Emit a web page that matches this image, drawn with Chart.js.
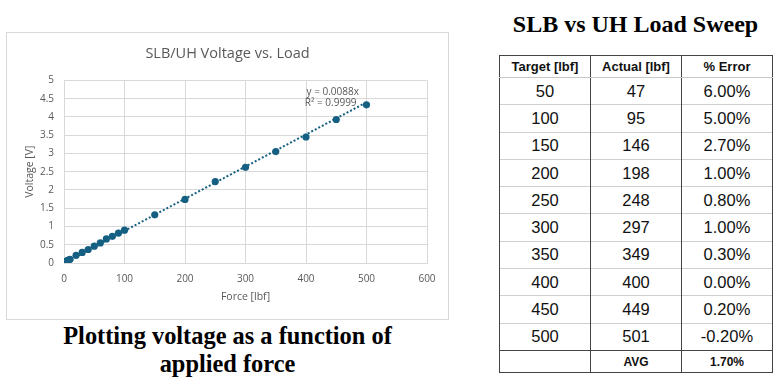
<!DOCTYPE html>
<html lang="en">
<head>
  <meta charset="UTF-8">
  <title>SLB/UH Voltage vs. Load</title>
  <script src="https://cdn.jsdelivr.net/npm/chart.js"></script>
  <style>
    body {
      margin: 0;
      width: 777px;
      height: 386px;
      background: #fff;
      position: relative;
      overflow: hidden;
    }

    /* Chart frame */
    .chart-box {
      position: absolute;
      left: 6px;
      top: 32px;
      width: 443px;
      height: 288px;
      border: 1px solid #d9d9d9;
      box-sizing: border-box;
    }
    .chart-inner {
      position: absolute;
      left: 0;
      top: 1px;
      width: 441px;
      height: 285px;
    }

    .caption {
      position: absolute;
      left: 6px;
      width: 443px;
      top: 322px;
      text-align: center;
      font-family: 'Liberation Serif', 'Times New Roman', serif;
      font-weight: bold;
      font-size: 24.4px;
      line-height: 28px;
      color: #000;
    }

    .table-title {
      position: absolute;
      left: 470px;
      width: 331px;
      top: 9px;
      text-align: center;
      font-family: 'Liberation Serif', 'Times New Roman', serif;
      font-weight: bold;
      font-size: 24px;
      line-height: 30px;
      color: #000;
    }

    /* Load sweep table */
    table {
      position: absolute;
      left: 499px;
      top: 55px;
      width: 274px;
      border-collapse: collapse;
      table-layout: fixed;
      font-family: 'Liberation Sans', Arial, sans-serif;
      color: #111;
    }
    td, th {
      padding: 0;
      text-align: center;
      border-left: 1px solid #444;
      border-right: 1px solid #444;
      border-top: 1px solid #d0d0d0;
    }
    thead th {
      height: 21px;
      font-size: 13px;
      font-weight: bold;
      border-top: 1px solid #444;
      border-bottom: 1px solid #c8c8c8;
    }
    tbody td {
      height: 26.3px;
      font-size: 16.5px;
    }
    tfoot td {
      height: 21.5px;
      font-size: 12px;
      font-weight: bold;
      border-top: 1px solid #444;
      border-bottom: 1px solid #444;
    }
  </style>
</head>
<body>
  <div class="chart-box">
    <div class="chart-inner"><canvas id="loadChart"></canvas></div>
  </div>
  <div class="caption">Plotting voltage as a function of<br>applied force</div>

  <div class="table-title">SLB vs UH Load Sweep</div>
  <table>
    <thead>
      <tr><th>Target [lbf]</th><th>Actual [lbf]</th><th>% Error</th></tr>
    </thead>
    <tbody id="sweepBody"></tbody>
    <tfoot>
      <tr><td></td><td>AVG</td><td id="avgCell"></td></tr>
    </tfoot>
  </table>

  <script>
    // Scatter data
    const forceLbf = [0, 2, 4, 6, 8, 10, 20, 30, 40, 50, 60, 70, 80, 90, 100, 150, 200, 250, 300, 350, 400, 450, 500];
    const voltageV = [0.02, 0.03, 0.05, 0.07, 0.08, 0.10, 0.21, 0.29, 0.37, 0.46, 0.55, 0.66, 0.73, 0.82, 0.90, 1.32, 1.74, 2.23, 2.62, 3.05, 3.45, 3.93, 4.33];

    // Linear trendline (y = 0.0088x), end points
    const trendX = [0, 500];
    const trendY = [0, 4.4];
    const trendLabel = ['y = 0.0088x', 'R² = 0.9999'];

    // Load sweep table
    const targetLbf = [50, 100, 150, 200, 250, 300, 350, 400, 450, 500];
    const actualLbf = [47, 95, 146, 198, 248, 297, 349, 400, 449, 501];
    const errorPct = ['6.00%', '5.00%', '2.70%', '1.00%', '0.80%', '1.00%', '0.30%', '0.00%', '0.20%', '-0.20%'];
    const avgError = '1.70%';

    // Build the table rows
    const body = document.getElementById('sweepBody');
    targetLbf.forEach((t, i) => {
      const tr = document.createElement('tr');
      [t, actualLbf[i], errorPct[i]].forEach(v => {
        const td = document.createElement('td');
        td.textContent = v;
        tr.appendChild(td);
      });
      body.appendChild(tr);
    });
    document.getElementById('avgCell').textContent = avgError;

    const axisGrey = '#595959';
    const gridGrey = '#d9d9d9';
    const fontFam = "'Open Sans', 'Noto Sans', sans-serif";

    // Draws the trendline equation next to the last point
    const trendText = {
      id: 'trendText',
      afterDatasetsDraw(chart) {
        const { ctx, scales } = chart;
        ctx.save();
        ctx.fillStyle = axisGrey;
        ctx.font = '10px ' + fontFam;
        ctx.textBaseline = 'middle';
        ctx.textAlign = 'left';
        ctx.fillText(trendLabel[0], scales.x.getPixelForValue(401), scales.y.getPixelForValue(4.68));
        ctx.fillText(trendLabel[1], scales.x.getPixelForValue(398), scales.y.getPixelForValue(4.37));
        ctx.restore();
      }
    };

    const ctx = document.getElementById('loadChart').getContext('2d');
    new Chart(ctx, {
      type: 'scatter',
      data: {
        datasets: [{
          label: 'Voltage',
          data: forceLbf.map((f, i) => ({ x: f, y: voltageV[i] })),
          backgroundColor: '#156082',
          borderColor: '#156082',
          pointRadius: 3.6,
          pointBorderWidth: 0,
          order: 1
        }, {
          label: 'Linear (Voltage)',
          data: trendX.map((f, i) => ({ x: f, y: trendY[i] })),
          showLine: true,
          borderColor: '#156082',
          borderWidth: 2,
          borderDash: [2, 2],
          pointRadius: 0,
          order: 2
        }]
      },
      options: {
        responsive: true,
        maintainAspectRatio: false,
        animation: false,
        layout: { padding: 0 },
        plugins: {
          legend: { display: false },
          tooltip: { enabled: false },
          title: {
            display: true,
            text: 'SLB/UH Voltage vs. Load',
            color: axisGrey,
            font: { family: fontFam, size: 14.5, weight: 'normal' },
            padding: { top: 11, bottom: 18 }
          }
        },
        scales: {
          x: {
            type: 'linear',
            min: 0,
            max: 600,
            ticks: { stepSize: 100, color: axisGrey, padding: 10, font: { family: fontFam, size: 10 } },
            grid: { color: gridGrey, drawTicks: false },
            border: { color: gridGrey },
            title: {
              display: true,
              text: 'Force [lbf]',
              color: axisGrey,
              font: { family: fontFam, size: 10.5 },
              padding: { top: 0, bottom: 16 }
            },
            afterFit(scale) { scale.height = 56; }
          },
          y: {
            min: 0,
            max: 5,
            ticks: {
              stepSize: 0.5,
              color: axisGrey,
              padding: 10,
              font: { family: fontFam, size: 10 },
              callback: v => String(v)
            },
            grid: { color: gridGrey, drawTicks: false },
            border: { color: gridGrey },
            title: {
              display: true,
              text: 'Voltage [V]',
              color: axisGrey,
              font: { family: fontFam, size: 10.5 },
              padding: { top: 17, bottom: 0 }
            },
            afterFit(scale) { scale.width = 57; }
          },
          // empty right-hand spacer so the title stays centred on the whole frame
          spacer: {
            type: 'linear',
            position: 'right',
            ticks: { display: false },
            grid: { display: false },
            border: { display: false },
            afterFit(scale) { scale.width = 21; }
          }
        }
      },
      plugins: [trendText]
    });
  </script>
</body>
</html>
